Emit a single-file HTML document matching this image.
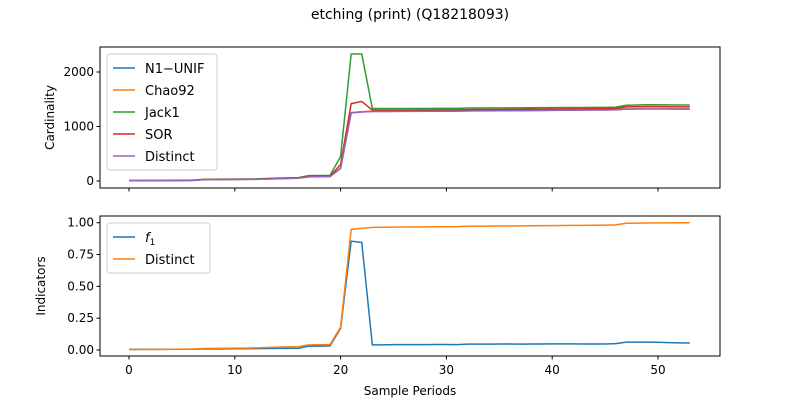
<!DOCTYPE html>
<html><head><meta charset="utf-8">
<style>body{margin:0;background:#fff}svg{font-family:"DejaVu Sans","Liberation Sans",sans-serif}</style>
</head><body>
<svg id="c" width="800" height="400"></svg>
<script>
const xs=[...Array(54).keys()];
const distinctTop=[5,5,6,7,8,9,10,22,24,26,27,28,30,35,40,45,50,75,78,80,230,1250,1265,1275,1275,1276,1277,1278,1279,1280,1280,1281,1285,1286,1287,1288,1289,1290,1292,1294,1296,1298,1300,1301,1302,1303,1305,1318,1320,1322,1322,1320,1318,1318];
const jack1=[8,8,9,10,11,12,13,30,32,34,35,36,38,45,52,58,62,98,100,102,450,2330,2330,1330,1330,1330,1330,1330,1330,1332,1332,1333,1340,1340,1341,1342,1342,1343,1345,1346,1347,1348,1348,1349,1350,1350,1355,1390,1395,1398,1398,1396,1394,1394];
const sor=[6,6,7,8,9,10,11,25,27,29,30,31,33,40,46,52,56,85,88,90,300,1420,1460,1300,1300,1300,1301,1302,1303,1304,1304,1305,1310,1311,1312,1313,1314,1315,1317,1319,1320,1322,1323,1324,1325,1326,1330,1360,1363,1365,1365,1363,1361,1361];
const chao92=distinctTop.map(v=>v+6);
const n1unif=distinctTop.map(v=>v+3);
const f1=[0.005,0.005,0.005,0.005,0.006,0.006,0.006,0.008,0.008,0.009,0.01,0.01,0.011,0.012,0.013,0.013,0.014,0.03,0.03,0.032,0.17,0.855,0.845,0.04,0.04,0.042,0.042,0.042,0.042,0.043,0.043,0.042,0.046,0.046,0.046,0.047,0.047,0.046,0.047,0.047,0.048,0.048,0.048,0.047,0.047,0.047,0.05,0.062,0.062,0.062,0.061,0.058,0.056,0.055];
const distinctBot=[0.004,0.004,0.005,0.005,0.006,0.007,0.007,0.012,0.013,0.014,0.015,0.015,0.017,0.02,0.023,0.025,0.027,0.04,0.041,0.042,0.18,0.948,0.955,0.963,0.964,0.965,0.966,0.966,0.967,0.968,0.968,0.969,0.972,0.973,0.973,0.974,0.974,0.975,0.976,0.977,0.977,0.978,0.979,0.979,0.98,0.981,0.983,0.996,0.997,0.998,0.999,0.999,1.0,1.0];
const xTicks=[0,10,20,30,40,50];
const topTicks=[0,1000,2000];
const botTicks=[0,0.25,0.5,0.75,1.0];
const botTickLabels=["0.00","0.25","0.50","0.75","1.00"];

const svg=document.getElementById('c');const NS='http://www.w3.org/2000/svg';
function el(t,a,p){const e=document.createElementNS(NS,t);for(const k in a)e.setAttribute(k,a[k]);(p||svg).appendChild(e);return e;}
const L=100,R=720;
const X=v=>129+(v-0)*(658-129)/50;
const YT=v=>181-v*0.0545;
const YB=v=>350-v*127.3;
function txt(s,x,y,anchor,size,name,rot){const t=el('text',{x,y,'text-anchor':anchor,'font-size':size||12,fill:'#000'});t.textContent=s;if(rot)t.setAttribute('transform',`rotate(-90 ${x} ${y})`);return t;}
txt('etching (print) (Q18218093)',410,19,'middle',14,'chart-title');
const colors={n1:'#1f77b4',chao:'#ff7f0e',jack:'#2ca02c',sor:'#d62728',dist:'#9467bd'};
function line(arr,Y,c,name){const p=el('path',{d:arr.map((v,i)=>(i?'L':'M')+X(xs[i])+' '+Y(v)).join(''),fill:'none',stroke:c,'stroke-width':1.5});}
function axes(top,bot,Y,ticks,labels,ylab,pre,showX){
 const f=el('rect',{x:L,y:top,width:R-L,height:bot-top,fill:'none',stroke:'#000','stroke-width':1});
 
 ticks.forEach((t,i)=>{el('line',{x1:L-3.5,x2:L,y1:Y(t),y2:Y(t),stroke:'#000'});txt(labels[i],L-6,Y(t)+4,'end',12,pre+'-y-tick-label');});
 xTicks.forEach(t=>{el('line',{x1:X(t),x2:X(t),y1:bot,y2:bot+3.5,stroke:'#000'});if(showX)txt(String(t),X(t),bot+18,'middle',12,'x-tick-label');});
 txt(ylab,L-55+(pre==='top'?9:0),(top+bot)/2,'middle',12,pre+'-y-axis-title',true);
}
axes(47,188,YT,topTicks,topTicks.map(String),'Cardinality','top',false);
line(n1unif,YT,colors.n1,'line-n1-unif');line(chao92,YT,colors.chao,'line-chao92');line(jack1,YT,colors.jack,'line-jack1');line(sor,YT,colors.sor,'line-sor');line(distinctTop,YT,colors.dist,'line-distinct-top');
axes(216,356,YB,botTicks,botTickLabels,'Indicators','bottom',true);
line(f1,YB,colors.n1,'line-f1');line(distinctBot,YB,colors.chao,'line-distinct-bottom');
txt('Sample Periods',410,395,'middle',12,'x-axis-title');
function legend(x,y,items,name){const g=el('g',{});
 el('rect',{x,y,width:items.w,height:items.list.length*22+6,rx:3,fill:'#fff',stroke:'#ccc','fill-opacity':0.8},g);
 items.list.forEach((it,i)=>{const yy=y+14+i*22;el('line',{x1:x+6,x2:x+28,y1:yy,y2:yy,stroke:it[1],'stroke-width':1.5},g);const t=el('text',{x:x+38,y:yy+5,'font-size':13},g);t.innerHTML=it[0];});}
legend(107,54,{w:110,list:[['N1−UNIF',colors.n1],['Chao92',colors.chao],['Jack1',colors.jack],['SOR',colors.sor],['Distinct',colors.dist]]},'top-legend');
legend(107,223,{w:103,list:[['<tspan font-style="italic">f</tspan><tspan font-size="9" dy="3">1</tspan>',colors.n1],['Distinct',colors.chao]]},'bottom-legend');
</script>
</body></html>
